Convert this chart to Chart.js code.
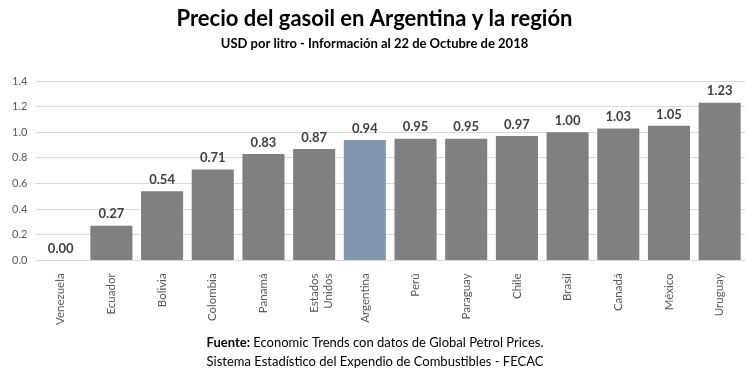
<!DOCTYPE html>
<html>
<head>
<meta charset="utf-8">
<script src="https://cdn.jsdelivr.net/npm/chart.js@4.4.0/dist/chart.umd.min.js"></script>
<style>
  html, body { margin: 0; padding: 0; background: #fff; }
  #wrap { width: 750px; height: 377px; }
</style>
</head>
<body>
<div id="wrap"><canvas id="chart" width="750" height="377"></canvas></div>
<script>
const paises = ['Venezuela', 'Ecuador', 'Bolivia', 'Colombia', 'Panamá', ['Estados', 'Unidos'], 'Argentina', 'Perú', 'Paraguay', 'Chile', 'Brasil', 'Canadá', 'México', 'Uruguay']
const precios = [0.00, 0.27, 0.54, 0.71, 0.83, 0.87, 0.94, 0.95, 0.95, 0.97, 1.00, 1.03, 1.05, 1.23]
const ticksY = [0.0, 0.2, 0.4, 0.6, 0.8, 1.0, 1.2, 1.4]

const colores = paises.map((p) => { return p === 'Argentina' ? '#8497b0' : '#808080' })

// valores arriba de cada barra
const etiquetas = {
    id: 'etiquetas',
    afterDatasetsDraw(chart) {
        const ctx = chart.ctx
        const meta = chart.getDatasetMeta(0)
        ctx.save()
        ctx.font = 'bold 13px Lato'
        ctx.fillStyle = '#404040'
        ctx.textAlign = 'center'
        ctx.textBaseline = 'bottom'
        meta.data.forEach((bar, i) => {
            ctx.fillText(precios[i].toFixed(2), bar.x, bar.y - 5)
        })
        ctx.restore()
    }
}

// fuente al pie
const pie = {
    id: 'pie',
    afterDraw(chart) {
        const ctx = chart.ctx
        ctx.save()
        ctx.fillStyle = '#000'
        ctx.textBaseline = 'middle'
        const b = 'Fuente:'
        const r = ' Economic Trends con datos de Global Petrol Prices.'
        ctx.font = 'bold 13px Lato'
        const wb = ctx.measureText(b).width
        ctx.font = '13px Lato'
        const wr = ctx.measureText(r).width
        let x = 375 - (wb + wr) / 2
        ctx.textAlign = 'left'
        ctx.font = 'bold 13px Lato'
        ctx.fillText(b, x, 343)
        ctx.font = '13px Lato'
        ctx.fillText(r, x + wb, 343)
        ctx.textAlign = 'center'
        ctx.fillText('Sistema Estadístico del Expendio de Combustibles - FECAC', 375, 362)
        ctx.restore()
    }
}

const data = {
    labels: paises,
    datasets: [{
        label: 'USD por litro',
        data: precios,
        backgroundColor: colores,
        borderWidth: 0,
        barPercentage: 0.83,
        categoryPercentage: 1.0
    }]
}

const config = {
    type: 'bar',
    data: data,
    options: {
        responsive: false,
        animation: false,
        layout: { padding: { left: 4, right: 5, top: 0, bottom: 47 } },
        plugins: {
            legend: { display: false },
            tooltip: { enabled: false },
            title: {
                display: true,
                text: 'Precio del gasoil en Argentina y la región',
                color: '#000',
                font: { family: 'Lato', size: 22, weight: 'bold' },
                padding: { top: 6, bottom: 4 }
            },
            subtitle: {
                display: true,
                text: 'USD por litro - Información al 22 de Octubre de 2018',
                color: '#000',
                font: { family: 'Lato', size: 13, weight: 'bold' },
                padding: { top: 0, bottom: 29 }
            }
        },
        scales: {
            x: {
                grid: { display: false },
                border: { display: true, color: '#d9d9d9' },
                ticks: {
                    color: '#595959',
                    font: { family: 'Lato', size: 11.5 },
                    minRotation: 90,
                    maxRotation: 90,
                    autoSkip: false,
                    padding: 5
                }
            },
            y: {
                min: 0,
                max: 1.4,
                afterBuildTicks: (axis) => { axis.ticks = ticksY.map((v) => { return { value: v } }) },
                grid: { color: '#d9d9d9', drawTicks: false },
                border: { display: false },
                ticks: {
                    color: '#595959',
                    font: { family: 'Lato', size: 11 },
                    padding: 8,
                    callback: (v) => { return v.toFixed(1) }
                }
            }
        }
    },
    plugins: [etiquetas, pie]
}

const canvasBarras = document.getElementById('chart')
const graficoBarras = new Chart(canvasBarras, config)
</script>
</body>
</html>
